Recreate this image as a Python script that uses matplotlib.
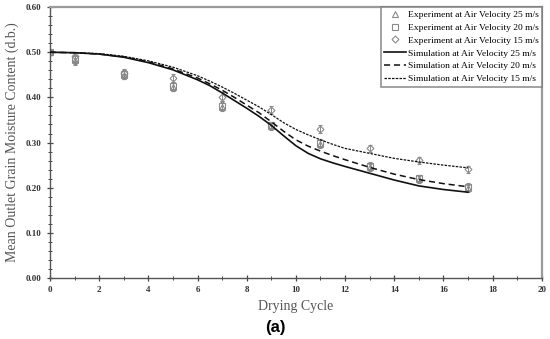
import matplotlib.pyplot as plt
from matplotlib.lines import Line2D
from matplotlib.ticker import MultipleLocator, FormatStrFormatter

# Experimental data (drying cycle vs mean outlet moisture, d.b.)
cycles_exp = [0, 1, 3, 5, 7, 9, 11, 13, 15, 17]
exp_25 = [0.500, 0.482, 0.450, 0.424, 0.379, 0.336, 0.297, 0.245, 0.219, 0.199]
exp_20 = [0.500, 0.485, 0.451, 0.425, 0.381, 0.338, 0.299, 0.248, 0.221, 0.202]
exp_15 = [0.500, 0.491, 0.453, 0.442, 0.401, 0.372, 0.330, 0.287, 0.261, 0.241]
err_25 = [0.005, 0.010, 0.010, 0.010, 0.010, 0.008, 0.008, 0.008, 0.008, 0.008]
err_20 = [0.005, 0.010, 0.010, 0.010, 0.010, 0.008, 0.008, 0.008, 0.008, 0.008]
err_15 = [0.005, 0.010, 0.010, 0.010, 0.010, 0.008, 0.008, 0.008, 0.008, 0.008]

# Simulation curves
cycles_sim = [0, 1, 2, 3, 4, 5, 6, 6.5, 7, 7.5, 8, 8.5, 9, 9.5, 10, 10.5,
              11, 11.5, 12, 13, 14, 15, 16, 17]
sim_25 = [0.500, 0.499, 0.496, 0.489, 0.477, 0.461, 0.439, 0.426, 0.410, 0.393,
          0.376, 0.358, 0.338, 0.315, 0.293, 0.276, 0.264, 0.255, 0.247, 0.232,
          0.217, 0.204, 0.196, 0.190]
sim_20 = [0.500, 0.499, 0.496, 0.490, 0.479, 0.463, 0.443, 0.430, 0.416, 0.400,
          0.383, 0.366, 0.346, 0.325, 0.306, 0.292, 0.281, 0.271, 0.262, 0.245,
          0.230, 0.218, 0.209, 0.202]
sim_15 = [0.500, 0.499, 0.497, 0.491, 0.481, 0.467, 0.448, 0.436, 0.423, 0.409,
          0.394, 0.379, 0.362, 0.344, 0.329, 0.317, 0.306, 0.296, 0.287, 0.276,
          0.265, 0.257, 0.250, 0.244]

labels_exp = ["Experiment at Air Velocity 25 m/s",
              "Experiment at Air Velocity 20 m/s",
              "Experiment at Air Velocity 15 m/s"]
labels_sim = ["Simulation at Air Velocity 25 m/s",
              "Simulation at Air Velocity 20 m/s",
              "Simulation at Air Velocity 15 m/s"]

plt.rcParams['font.family'] = ['Liberation Serif', 'DejaVu Serif']

fig = plt.figure(figsize=(5.5, 3.39), dpi=100)
ax = fig.add_axes([0.091, 0.180, 0.894, 0.799])

grey = '#8a8a8a'
markers = [('^', 4.5), ('s', 4.5), ('D', 3.5)]
handles = []
for y_vals, err, (mk, ms), lab in zip([exp_25, exp_20, exp_15],
                                      [err_25, err_20, err_15],
                                      markers, labels_exp):
    ax.errorbar(cycles_exp, y_vals, yerr=err, fmt=mk, ms=ms, mfc='none', mec=grey,
                mew=0.8, ecolor=grey, elinewidth=0.7, capsize=1.5, capthick=0.7,
                zorder=2)
    handles.append(Line2D([], [], ls='none', marker=mk, ms=ms, mfc='none',
                          mec=grey, mew=0.8, label=lab))

styles = ['-', (0, (4, 2.5)), (0, (2, 1))]
widths = [1.2, 1.1, 0.9]
for y_vals, st, lw, lab in zip([sim_25, sim_20, sim_15], styles, widths, labels_sim):
    line, = ax.plot(cycles_sim, y_vals, color='#111111', lw=lw, ls=st, label=lab, zorder=3)
    handles.append(line)

ax.set_xlim(0, 20)
ax.set_ylim(0, 0.6)
ax.xaxis.set_major_locator(MultipleLocator(2))
ax.xaxis.set_minor_locator(MultipleLocator(1))
ax.yaxis.set_major_locator(MultipleLocator(0.1))
ax.yaxis.set_minor_locator(MultipleLocator(0.02))
ax.yaxis.set_major_formatter(FormatStrFormatter('%.2f'))

ax.tick_params(which='major', direction='inout', length=5, width=0.9, color='#444444',
               labelsize=6.5, labelcolor='#333333')
ax.tick_params(which='minor', direction='inout', length=3, width=0.7, color='#444444')
for lab in ax.get_xticklabels() + ax.get_yticklabels():
    lab.set_fontweight('bold')

for side in ['left', 'bottom']:
    ax.spines[side].set_color('#555555')
    ax.spines[side].set_linewidth(1.0)
for side in ['top', 'right']:
    ax.spines[side].set_color('#9a9a9a')
    ax.spines[side].set_linewidth(1.6)

ax.set_xlabel('Drying Cycle', fontsize=10, color='#555555', labelpad=4)
ax.set_ylabel('Mean Outlet Grain Moisture Content (d.b.)', fontsize=10,
              color='#555555', labelpad=5)

leg = ax.legend(handles=handles, loc='upper right', fontsize=6.8, frameon=True,
                fancybox=False, edgecolor='#777777', handlelength=2.3,
                handletextpad=0.2, borderpad=0.35, labelspacing=0.45,
                borderaxespad=0.0)
leg.get_frame().set_linewidth(1.2)

fig.text(0.5, 0.035, '(a)', ha='center', va='center', fontsize=12,
         family=['Liberation Sans', 'DejaVu Sans'], fontweight='bold')

fig.savefig('out.png', dpi=100)
